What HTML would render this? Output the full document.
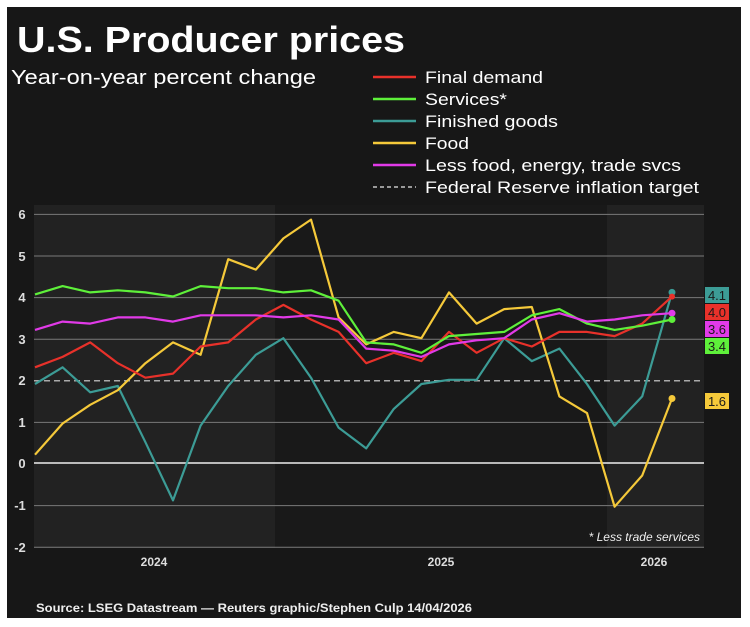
<!DOCTYPE html>
<html><head><meta charset="utf-8"><style>
html,body{margin:0;padding:0;background:#fff;}
svg{display:block;font-family:"Liberation Sans",Arial,sans-serif;}
</style></head><body>
<svg width="750" height="627" viewBox="0 0 750 627" xmlns="http://www.w3.org/2000/svg">
<rect x="0" y="0" width="750" height="627" fill="#fff"/>
<rect x="7" y="7" width="734" height="611" fill="#171717"/>
<rect x="34" y="205" width="241" height="343" fill="#222222"/>
<rect x="275" y="205" width="332" height="343" fill="#191919"/>
<rect x="607" y="205" width="97" height="343" fill="#222222"/>
<text x="17" y="52" font-size="36" font-weight="bold" fill="#fff" textLength="388" lengthAdjust="spacingAndGlyphs">U.S. Producer prices</text>
<text x="11" y="84" font-size="20" fill="#fff" textLength="305" lengthAdjust="spacingAndGlyphs">Year-on-year percent change</text>
<g font-size="17" fill="#fff">
<line x1="373" y1="77" x2="416" y2="77" stroke="#e8312a" stroke-width="2.5"/><text x="425" y="83" textLength="118" lengthAdjust="spacingAndGlyphs">Final demand</text>
<line x1="373" y1="99" x2="416" y2="99" stroke="#5ef03a" stroke-width="2.5"/><text x="425" y="105" textLength="82" lengthAdjust="spacingAndGlyphs">Services*</text>
<line x1="373" y1="121" x2="416" y2="121" stroke="#3c9c96" stroke-width="2.5"/><text x="425" y="127" textLength="133" lengthAdjust="spacingAndGlyphs">Finished goods</text>
<line x1="373" y1="143" x2="416" y2="143" stroke="#f5c93a" stroke-width="2.5"/><text x="425" y="149" textLength="44" lengthAdjust="spacingAndGlyphs">Food</text>
<line x1="373" y1="165" x2="416" y2="165" stroke="#e13ae8" stroke-width="2.5"/><text x="425" y="171" textLength="256" lengthAdjust="spacingAndGlyphs">Less food, energy, trade svcs</text>
<line x1="373" y1="187" x2="416" y2="187" stroke="#999" stroke-width="2" stroke-dasharray="4,3"/><text x="425" y="193" textLength="274" lengthAdjust="spacingAndGlyphs">Federal Reserve inflation target</text>
</g>
<g stroke="#7a7a7a" stroke-width="1">
<line x1="34" y1="214.4" x2="704" y2="214.4"/>
<line x1="34" y1="256" x2="704" y2="256"/>
<line x1="34" y1="297.6" x2="704" y2="297.6"/>
<line x1="34" y1="339.2" x2="704" y2="339.2"/>
<line x1="34" y1="422.4" x2="704" y2="422.4"/>
<line x1="34" y1="505.6" x2="704" y2="505.6"/>
<line x1="34" y1="547.2" x2="704" y2="547.2"/>
</g>
<line x1="34" y1="463" x2="704" y2="463" stroke="#eee" stroke-width="1.5"/>
<line x1="34" y1="380.8" x2="704" y2="380.8" stroke="#aaa" stroke-width="1.5" stroke-dasharray="6,4"/>
<g font-size="13" font-weight="bold" fill="#ddd" text-anchor="middle">
<text x="22" y="219">6</text><text x="22" y="261">5</text><text x="22" y="302">4</text><text x="22" y="344">3</text><text x="22" y="385">2</text><text x="22" y="427">1</text><text x="22" y="468">0</text><text x="20" y="510">-1</text><text x="20" y="552">-2</text>
<text x="154" y="566" font-size="12">2024</text><text x="441" y="566" font-size="12">2025</text><text x="654" y="566" font-size="12">2026</text>
</g>
<text x="700" y="541" font-size="12" font-style="italic" fill="#eee" text-anchor="end">* Less trade services</text>
<g fill="none" stroke-width="2.2" stroke-linejoin="round">
<polyline id="teal" stroke="#3c9c96" points="35,384.0 62.6,367.3 90.2,392.3 117.8,386.0 145.4,442.2 173,500.4 200.6,425.6 228.2,386.0 255.8,354.8 283.4,338.2 311,377.7 338.6,427.6 366.2,448.4 393.8,408.9 421.4,384.0 449,379.8 476.6,379.8 504.2,338.2 531.8,361.1 559.4,348.6 587,384.0 614.6,425.6 642.2,396.4 672,292.4"/>
<polyline stroke="#f5c93a" points="35,454.7 62.6,423.5 90.2,404.8 117.8,390.2 145.4,363.2 173,342.4 200.6,354.8 228.2,259.2 255.8,269.6 283.4,238.4 311,219.6 338.6,317.4 366.2,344.4 393.8,331.9 421.4,338.2 449,292.4 476.6,323.6 504.2,309.1 531.8,307.0 559.4,396.4 587,413.1 614.6,506.7 642.2,475.5 672,398.5"/>
<polyline stroke="#e8312a" points="35,367.3 62.6,356.9 90.2,342.4 117.8,363.2 145.4,377.7 173,373.6 200.6,346.5 228.2,342.4 255.8,319.5 283.4,304.9 311,319.5 338.6,331.9 366.2,363.2 393.8,352.8 421.4,361.1 449,331.9 476.6,352.8 504.2,338.2 531.8,346.5 559.4,331.9 587,331.9 614.6,336.1 642.2,323.6 672,296.6"/>
<polyline stroke="#5ef03a" points="35,294.4 62.6,286.1 90.2,292.4 117.8,290.3 145.4,292.4 173,296.5 200.6,286.1 228.2,288.2 255.8,288.2 283.4,292.4 311,290.3 338.6,300.7 366.2,342.4 393.8,344.4 421.4,352.8 449,336.1 476.6,334.0 504.2,331.9 531.8,315.3 559.4,309.1 587,323.6 614.6,329.9 642.2,325.7 672,319.5"/>
<polyline stroke="#e13ae8" points="35,329.9 62.6,321.6 90.2,323.6 117.8,317.4 145.4,317.4 173,321.6 200.6,315.3 228.2,315.3 255.8,315.3 283.4,317.4 311,315.3 338.6,319.5 366.2,348.6 393.8,350.7 421.4,356.9 449,344.4 476.6,340.3 504.2,338.2 531.8,319.5 559.4,313.2 587,321.6 614.6,319.5 642.2,315.3 672,313.2"/>
</g>
<circle cx="672" cy="292.4" r="3.5" fill="#3c9c96"/>
<circle cx="672" cy="296.6" r="3" fill="#e8312a"/>
<circle cx="672" cy="313.2" r="3.5" fill="#e13ae8"/>
<circle cx="672" cy="319.5" r="3.5" fill="#5ef03a"/>
<circle cx="672" cy="398.5" r="3.5" fill="#f5c93a"/>
<g font-size="13" text-anchor="middle">
<rect x="705" y="287" width="24" height="16" fill="#3c9c96"/><text x="717" y="300" fill="#1a1a1a">4.1</text>
<rect x="705" y="304" width="24" height="16" fill="#e8312a"/><text x="717" y="317" fill="#1a1a1a">4.0</text>
<rect x="705" y="321" width="24" height="16" fill="#e13ae8"/><text x="717" y="334" fill="#1a1a1a">3.6</text>
<rect x="705" y="338" width="24" height="16" fill="#5ef03a"/><text x="717" y="351" fill="#1a1a1a">3.4</text>
<rect x="705" y="393" width="24" height="16" fill="#f5c93a"/><text x="717" y="406" fill="#1a1a1a">1.6</text>
</g>
<text x="36" y="612" font-size="12" font-weight="bold" fill="#eee" textLength="436" lengthAdjust="spacingAndGlyphs">Source: LSEG Datastream — Reuters graphic/Stephen Culp 14/04/2026</text>
</svg>
</body></html>
